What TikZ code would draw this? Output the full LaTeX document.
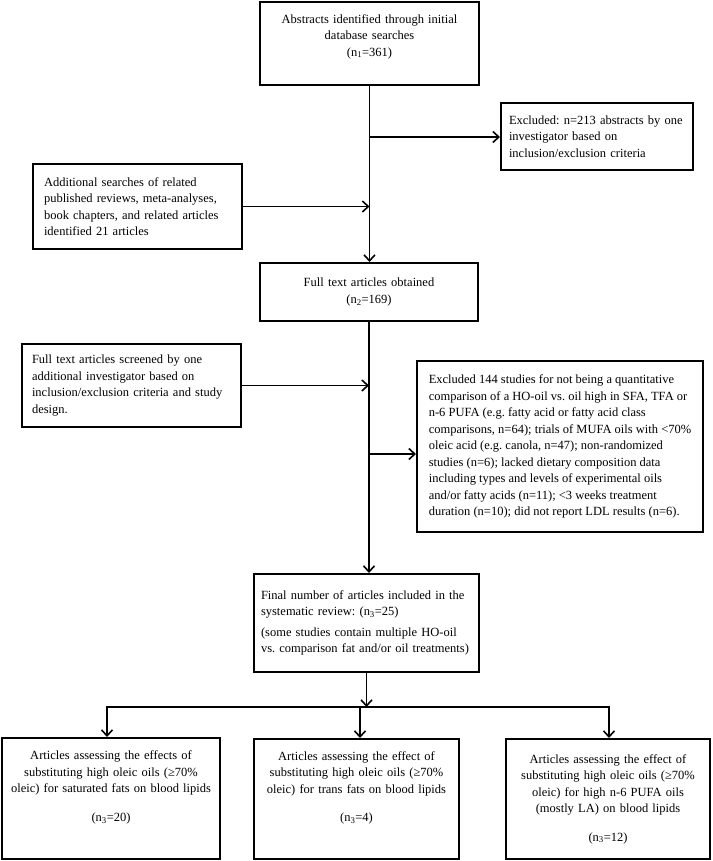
\documentclass[tikz,border=0pt]{standalone}
\usepackage{fontspec}
\setmainfont{Liberation Serif}
\usetikzlibrary{arrows.meta}
\frenchspacing

\begin{document}
\begin{tikzpicture}[x=1pt, y=-1pt,
box/.style={rectangle, draw, line width=2pt, inner ysep=4pt,
font=\fontsize{12.5}{16.5}\selectfont},
ln/.style={line width=1.6pt, line cap=rect},
arr/.style={ln, -{Straight Barb[length=6pt, width=11pt, line width=1.6pt]}}]

\useasboundingbox (0,0) rectangle (712,861);

\node[box, minimum width=219pt, minimum height=83pt, text width=200pt,
align=center] (abs) at (369.5,43.5) {Abstracts identified through initial\\
database searches\\ (n\textsubscript{1}=361)\\ \mbox{}};
\node[box, minimum width=192pt, minimum height=67pt, text width=176pt,
inner xsep=8pt, align=left] (exc) at (597,136.5) {Excluded: n=213 abstracts by one\\
investigator based on\\ inclusion/exclusion criteria};
\node[box, minimum width=209pt, minimum height=85pt, text width=187pt,
inner xsep=11pt, align=left] (add) at (137.5,206.5) {Additional searches of related\\
published reviews, meta-analyses,\\ book chapters, and related articles\\
identified 21 articles};
\node[box, minimum width=218pt, minimum height=58pt, text width=200pt,
align=center] (full) at (369,292) {Full text articles obtained\\
(n\textsubscript{2}=169)};
\node[box, minimum width=219pt, minimum height=83pt, text width=199pt,
inner xsep=10pt, align=left] (scr) at (131.5,385.5) {Full text articles screened by one\\
additional investigator based on\\ inclusion/exclusion criteria and study\\
design.};
\node[box, minimum width=286pt, minimum height=171pt,
align=left] (exc2) at (560,446.5) {Excluded 144 studies for not being a quantitative\\
comparison of a HO-oil vs. oil high in SFA, TFA or\\
n-6 PUFA (e.g. fatty acid or fatty acid class\\
comparisons, n=64); trials of MUFA oils with <70\%\\
oleic acid (e.g. canola, n=47); non-randomized\\
studies (n=6); lacked dietary composition data\\
including types and levels of experimental oils\\
and/or fatty acids (n=11); <3 weeks treatment\\
duration (n=10); did not report LDL results (n=6).};
\node[box, minimum width=225pt, minimum height=98pt, text width=211pt,
inner xsep=7pt, align=left] (fin) at (366.5,623) {Final number of articles included in the\\
systematic review: (n\textsubscript{3}=25)\\[4pt]
(some studies contain multiple HO-oil\\ vs. comparison fat and/or oil treatments)};

\node[box, minimum width=218pt, minimum height=121pt, text width=204pt,
align=center] (sat) at (111,798.5) {Articles assessing the effects of\\
substituting high oleic oils (≥70\%\\ oleic) for saturated fats on blood lipids\\[12pt]
(n\textsubscript{3}=20)\\[8pt] \mbox{}};
\node[box, minimum width=205pt, minimum height=120pt, text width=190pt,
align=center] (trans) at (356.5,799) {Articles assessing the effect of\\
substituting high oleic oils (≥70\%\\ oleic) for trans fats on blood lipids\\[12pt]
(n\textsubscript{3}=4)\\[8pt] \mbox{}};
\node[box, minimum width=204pt, minimum height=120pt, text width=190pt,
align=center] (pufa) at (608,799) {Articles assessing the effect of\\
substituting high oleic oils (≥70\%\\ oleic) for high n-6 PUFA oils\\
(mostly LA) on blood lipids\\[12pt] (n\textsubscript{3}=12)};

\draw[arr] (abs.south) -- (abs.south |- full.north);
\coordinate (s1) at (abs.south |- 0,137);
\draw[arr] (s1) -- (s1 -| exc.west);
\draw[arr] (add.east) -- (add.east -| abs.south);

\draw[arr] (full.south) -- (full.south |- fin.north);
\draw[arr] (scr.east) -- (scr.east -| full.south);
\coordinate (s2) at (full.south |- 0,454);
\draw[arr] (s2) -- (s2 -| exc2.west);

\coordinate (bl) at (107,707);
\coordinate (bm) at (360,707);
\coordinate (br) at (609,707);
\draw[arr] (fin.south) -- (fin.south |- bm);
\draw[ln] (bl) -- (br);
\draw[arr] (bl) -- (bl |- sat.north);
\draw[arr] (bm) -- (bm |- trans.north);
\draw[arr] (br) -- (br |- pufa.north);

\end{tikzpicture}
\end{document}
